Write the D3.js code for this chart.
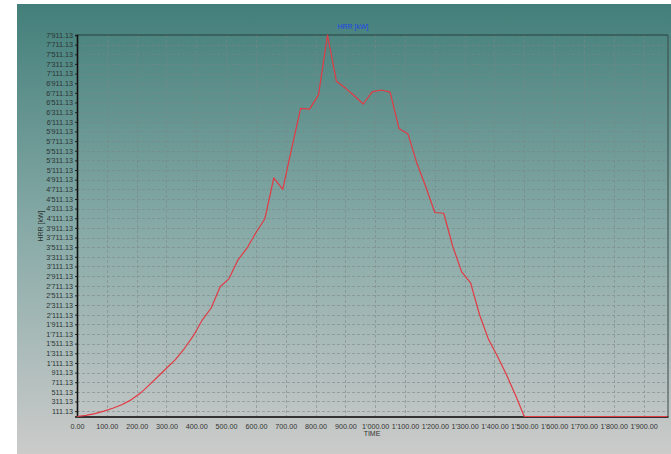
<!DOCTYPE html>
<html>
<head>
<meta charset="utf-8">
<script src="https://cdn.jsdelivr.net/npm/d3@7"></script>
<style>
  html, body { margin: 0; padding: 0; background: #ffffff; }
  svg { display: block; }
  text { font-family: "Liberation Sans", Arial, sans-serif; }
</style>
</head>
<body>
<svg id="chart" width="671" height="454"></svg>
<script>
// Heat release rate over time
const times = [0, 30, 60, 90, 120, 150, 180, 210, 240, 270, 300, 330, 360, 390, 420, 450,
  480, 510, 540, 570, 600, 630, 660, 690, 720, 750, 780, 810, 840, 870, 900, 930, 960,
  990, 1020, 1050, 1080, 1110, 1140, 1170, 1200, 1230, 1260, 1290, 1320, 1350, 1380,
  1410, 1440, 1470, 1500, 1560, 1620, 1680, 1740, 1800, 1860, 1920, 1980];
const hrr = [0, 25, 60, 110, 170, 245, 340, 470, 640, 820, 1000, 1180, 1410, 1670, 2000, 2250,
  2690, 2860, 3250, 3490, 3810, 4100, 4950, 4710, 5560, 6390, 6375, 6670, 7911.13, 6950, 6810, 6650, 6480,
  6730, 6770, 6725, 5970, 5860, 5250, 4760, 4230, 4215, 3530, 3000, 2770, 2110, 1600,
  1250, 870, 450, 0, 0, 0, 0, 0, 0, 0, 0, 0];

const xTicks = [0, 100, 200, 300, 400, 500, 600, 700, 800, 900, 1000, 1100, 1200, 1300,
  1400, 1500, 1600, 1700, 1800, 1900];
const yTicks = [111.13, 311.13, 511.13, 711.13, 911.13, 1111.13, 1311.13, 1511.13, 1711.13,
  1911.13, 2111.13, 2311.13, 2511.13, 2711.13, 2911.13, 3111.13, 3311.13, 3511.13, 3711.13,
  3911.13, 4111.13, 4311.13, 4511.13, 4711.13, 4911.13, 5111.13, 5311.13, 5511.13, 5711.13,
  5911.13, 6111.13, 6311.13, 6511.13, 6711.13, 6911.13, 7111.13, 7311.13, 7511.13, 7711.13,
  7911.13];

const chartTitle = "HRR [kW]";
const xTitle = "TIME";
const yTitle = "HRR [kW]";

const svg = d3.select("#chart");
const W = 671, H = 454;
const panel = { x: 17, y: 4 };
const m = { left: 77, right: 668, top: 35, bottom: 416.5 };

// Background panel gradient
const defs = svg.append("defs");
const grad = defs.append("linearGradient")
  .attr("id", "bg").attr("x1", 0).attr("y1", 0).attr("x2", 0).attr("y2", 1);
grad.append("stop").attr("offset", "0%").attr("stop-color", "#437f7a");
grad.append("stop").attr("offset", "50%").attr("stop-color", "#87aaa7");
grad.append("stop").attr("offset", "100%").attr("stop-color", "#cbcbca");

svg.append("rect")
  .attr("x", panel.x).attr("y", panel.y)
  .attr("width", W - panel.x).attr("height", H - panel.y)
  .attr("fill", "url(#bg)");

// Thousands separator is an apostrophe
const fmt = v => d3.format(",.2f")(v).replace(/,/g, "'");

const x = d3.scaleLinear().domain([0, 1982]).range([m.left, m.right]);
const y = d3.scaleLinear().domain([0, 7911.13]).range([m.bottom, m.top]);

// Grid
const grid = svg.append("g").attr("stroke", "#7a8785").attr("stroke-width", 0.8)
  .attr("stroke-dasharray", "3,2").attr("opacity", 0.7);
grid.selectAll("line.h").data(yTicks).join("line")
  .attr("x1", m.left).attr("x2", m.right)
  .attr("y1", d => Math.round(y(d)) + 0.5).attr("y2", d => Math.round(y(d)) + 0.5);
grid.selectAll("line.v").data(xTicks.slice(1)).join("line")
  .attr("y1", m.top).attr("y2", m.bottom)
  .attr("x1", d => Math.round(x(d)) + 0.5).attr("x2", d => Math.round(x(d)) + 0.5);

// Frame: top and right thin lines
svg.append("line").attr("x1", m.left).attr("x2", m.right).attr("y1", m.top).attr("y2", m.top)
  .attr("stroke", "#233f3d").attr("stroke-width", 1);
svg.append("line").attr("x1", m.right).attr("x2", m.right).attr("y1", m.top).attr("y2", m.bottom)
  .attr("stroke", "#3a4a49").attr("stroke-width", 1);

// Axes
const yAxis = d3.axisLeft(y).tickValues(yTicks).tickFormat(fmt).tickSize(2).tickPadding(2);
const yg = svg.append("g").attr("transform", `translate(${m.left},0)`).call(yAxis);
yg.select(".domain").attr("stroke", "#111").attr("stroke-width", 1.6);
yg.selectAll(".tick line").attr("stroke", "#222");
yg.selectAll(".tick text").attr("fill", "#2b3332").attr("font-size", 7.2)
  .attr("font-family", "Liberation Sans, Arial, sans-serif");

const xAxis = d3.axisBottom(x).tickValues(xTicks).tickFormat(fmt).tickSize(0).tickPadding(7);
const xg = svg.append("g").attr("transform", `translate(0,${m.bottom})`).call(xAxis);
xg.select(".domain").attr("stroke", "#333").attr("stroke-width", 2);
xg.selectAll(".tick text").attr("fill", "#333").attr("font-size", 7.2)
  .attr("font-family", "Liberation Sans, Arial, sans-serif");

// Series line
const line = d3.line().x((d, i) => x(times[i])).y(d => y(d));
svg.append("path").datum(hrr)
  .attr("d", line)
  .attr("fill", "none")
  .attr("stroke", "#e23a44")
  .attr("stroke-width", 1.2)
  .attr("stroke-linejoin", "round");

// Titles
svg.append("text").attr("x", 353).attr("y", 29).attr("text-anchor", "middle")
  .attr("font-size", 7).attr("fill", "#2146e6").text(chartTitle);
svg.append("text").attr("x", 372).attr("y", 436).attr("text-anchor", "middle")
  .attr("font-size", 7).attr("fill", "#333").text(xTitle);
svg.append("text").attr("transform", "translate(43,226) rotate(-90)").attr("text-anchor", "middle")
  .attr("font-size", 7).attr("fill", "#2b3332").text(yTitle);
</script>
</body>
</html>
